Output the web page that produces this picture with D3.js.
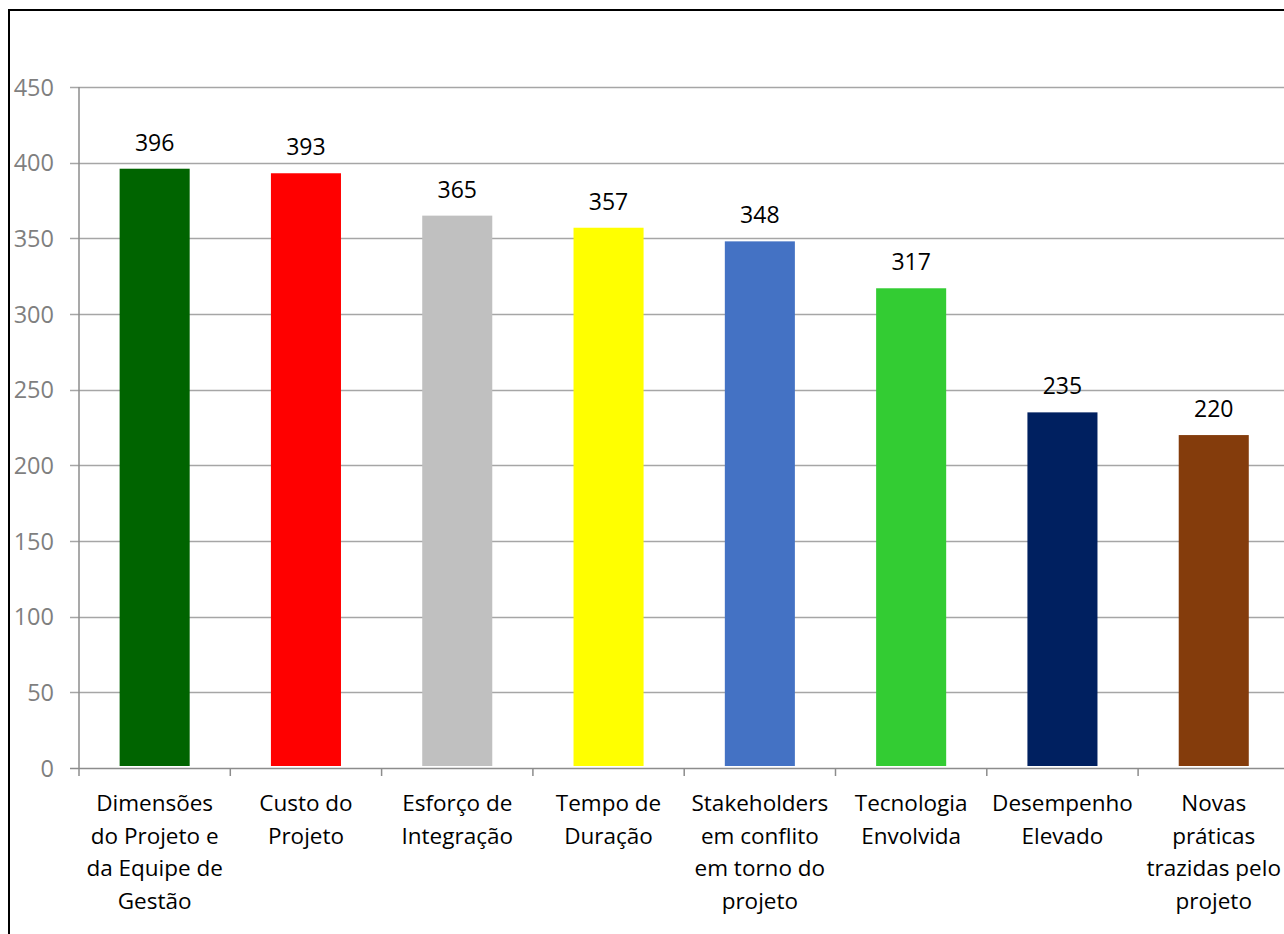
<!DOCTYPE html>
<html>
<head>
<meta charset="utf-8">
<script src="https://cdn.jsdelivr.net/npm/d3@7"></script>
<style>
  html, body { margin: 0; padding: 0; background: #fff; }
  svg { display: block; }
  text { font-family: "Open Sans", "Noto Sans", sans-serif; }
</style>
</head>
<body>
<svg id="chart" width="1284" height="934"></svg>
<script>
// Categories (each split into the lines shown under the axis)
const categories = [
  "Dimensões do Projeto e da Equipe de Gestão",
  "Custo do Projeto",
  "Esforço de Integração",
  "Tempo de Duração",
  "Stakeholders em conflito em torno do projeto",
  "Tecnologia Envolvida",
  "Desempenho Elevado",
  "Novas práticas trazidas pelo projeto"
];
const categoryLines = [
  ["Dimensões", "do Projeto e", "da Equipe de", "Gestão"],
  ["Custo do", "Projeto"],
  ["Esforço de", "Integração"],
  ["Tempo de", "Duração"],
  ["Stakeholders", "em conflito", "em torno do", "projeto"],
  ["Tecnologia", "Envolvida"],
  ["Desempenho", "Elevado"],
  ["Novas", "práticas", "trazidas pelo", "projeto"]
];
const values = [396, 393, 365, 357, 348, 317, 235, 220];
const barColors = ["#006400", "#ff0000", "#c0c0c0", "#ffff00", "#4472c4", "#33cc33", "#002060", "#843c0c"];
const yTicks = [0, 50, 100, 150, 200, 250, 300, 350, 400, 450];

const svg = d3.select("#chart");

// outer frame
svg.append("rect")
  .attr("x", 9).attr("y", 10).attr("width", 1290).attr("height", 940)
  .attr("fill", "none").attr("stroke", "#000").attr("stroke-width", 2);

const plot = { left: 79, top: 87, bottom: 768, right: 79 + 151.3 * 8 };

const x = d3.scaleBand()
  .domain(categories)
  .range([plot.left, plot.right])
  .paddingInner(0)
  .paddingOuter(0);

const y = d3.scaleLinear().domain([0, 450]).range([plot.bottom, plot.top]);

// horizontal gridlines
svg.append("g")
  .selectAll("line")
  .data(yTicks.filter(d => d > 0))
  .join("line")
  .attr("x1", plot.left - 9).attr("x2", 1284)
  .attr("y1", d => Math.round(y(d)) + 0.5).attr("y2", d => Math.round(y(d)) + 0.5)
  .attr("stroke", "#a6a6a6").attr("stroke-width", 1.3);

// y tick labels
svg.append("g")
  .selectAll("text")
  .data(yTicks)
  .join("text")
  .attr("x", 54)
  .attr("y", d => y(d) + 8.5)
  .attr("text-anchor", "end")
  .attr("fill", "#7f7f7f")
  .attr("font-size", 23.5)
  .text(d => d);

// bars
const barW = x.bandwidth() * 0.463;
svg.append("g")
  .selectAll("rect")
  .data(values)
  .join("rect")
  .attr("x", (d, i) => x(categories[i]) + (x.bandwidth() - barW) / 2)
  .attr("y", d => y(d))
  .attr("width", barW)
  .attr("height", d => y(0) - y(d) - 2)
  .attr("fill", (d, i) => barColors[i]);

// value labels
svg.append("g")
  .selectAll("text")
  .data(values)
  .join("text")
  .attr("x", (d, i) => x(categories[i]) + x.bandwidth() / 2)
  .attr("y", d => y(d) - 18)
  .attr("text-anchor", "middle")
  .attr("fill", "#000")
  .attr("font-size", 23)
  .text(d => d);

// axes lines and ticks
const axisG = svg.append("g").attr("stroke", "#8c8c8c").attr("stroke-width", 1.5);
axisG.append("line")
  .attr("x1", plot.left - 9).attr("x2", 1284)
  .attr("y1", plot.bottom + 0.5).attr("y2", plot.bottom + 0.5);
axisG.append("line")
  .attr("x1", plot.left).attr("x2", plot.left)
  .attr("y1", plot.top).attr("y2", plot.bottom + 8);
axisG.selectAll("line.tick")
  .data(categories.slice(1))
  .join("line")
  .attr("class", "tick")
  .attr("x1", d => x(d)).attr("x2", d => x(d))
  .attr("y1", plot.bottom).attr("y2", plot.bottom + 8);

// category labels
const catG = svg.append("g")
  .selectAll("text")
  .data(categories)
  .join("text")
  .attr("x", d => x(d) + x.bandwidth() / 2)
  .attr("y", 811)
  .attr("text-anchor", "middle")
  .attr("fill", "#000")
  .attr("font-size", 22.5);
catG.selectAll("tspan")
  .data((d, i) => categoryLines[i])
  .join("tspan")
  .attr("x", function () { return d3.select(this.parentNode).attr("x"); })
  .attr("dy", (d, i) => i === 0 ? 0 : 32.5)
  .text(d => d);
</script>
</body>
</html>
